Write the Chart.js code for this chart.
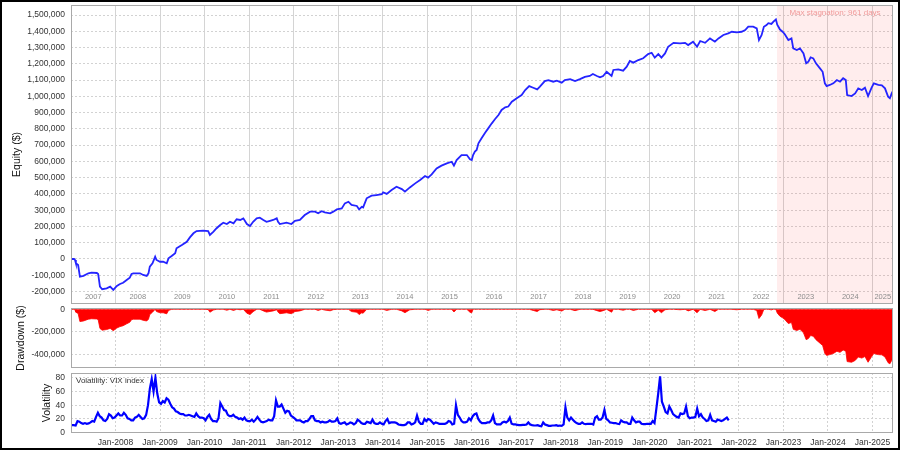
<!DOCTYPE html>
<html>
<head>
<meta charset="utf-8">
<script src="https://cdn.jsdelivr.net/npm/chart.js@4/dist/chart.umd.min.js"></script>
<style>
html,body{margin:0;padding:0;background:#fff;}
#wrap{position:relative;width:900px;height:450px;overflow:hidden;background:#fff;}
#wrap canvas{position:absolute;left:0;}
#frame{position:absolute;left:0;top:0;width:900px;height:450px;box-sizing:border-box;border:2px solid #000;pointer-events:none;}
</style>
</head>
<body>
<div id="wrap">
  <canvas id="c1" width="900" height="306" style="top:0px"></canvas>
  <canvas id="c2" width="900" height="64" style="top:306px"></canvas>
  <canvas id="c3" width="900" height="80" style="top:370px"></canvas>
  <div id="frame"></div>
</div>
<script>
// ---------------- DATA ----------------
// Equity curve (dates as decimal years, values in $ thousands)
const equityDates = [
  2007.00,2007.07,2007.09,2007.11,2007.16,2007.20,2007.28,2007.39,2007.46,2007.58,2007.61,2007.65,2007.70,2007.80,2007.88,2007.95,
  2008.03,2008.10,2008.17,2008.25,2008.32,2008.36,2008.40,2008.55,2008.62,2008.70,2008.74,2008.77,2008.83,2008.89,2008.92,
  2009.00,2009.07,2009.15,2009.19,2009.26,2009.34,2009.37,2009.49,2009.60,2009.67,2009.75,2009.82,2009.97,
  2010.08,2010.12,2010.20,2010.27,2010.35,2010.42,2010.50,2010.57,2010.65,2010.72,2010.80,2010.87,2010.95,
  2011.02,2011.09,2011.17,2011.24,2011.32,2011.39,2011.47,2011.54,2011.62,2011.65,2011.69,2011.84,2011.95,
  2012.03,2012.14,2012.25,2012.37,2012.48,2012.55,2012.63,2012.70,2012.82,2012.89,2012.97,
  2013.08,2013.15,2013.23,2013.30,2013.42,2013.47,2013.53,2013.56,2013.64,2013.75,2013.86,2013.98,
  2014.01,2014.09,2014.20,2014.31,2014.43,2014.50,2014.61,2014.73,2014.84,2014.95,
  2015.02,2015.10,2015.21,2015.32,2015.44,2015.55,2015.60,2015.66,2015.77,2015.89,2015.96,
  2016.00,2016.03,2016.07,2016.11,2016.15,2016.22,2016.30,2016.37,2016.45,2016.52,2016.60,2016.67,2016.75,2016.82,2016.90,
  2017.01,2017.12,2017.20,2017.29,2017.38,2017.47,2017.53,2017.64,2017.72,2017.83,2017.91,
  2018.02,2018.09,2018.21,2018.32,2018.43,2018.54,2018.65,2018.72,2018.81,2018.88,2018.95,
  2019.03,2019.14,2019.18,2019.29,2019.40,2019.48,2019.55,2019.63,2019.74,2019.85,2019.96,
  2020.04,2020.11,2020.19,2020.26,2020.34,2020.41,2020.53,2020.68,2020.79,2020.86,2020.97,
  2021.06,2021.13,2021.24,2021.35,2021.46,2021.54,2021.65,2021.76,2021.84,2021.95,
  2022.06,2022.14,2022.21,2022.32,2022.40,2022.45,2022.51,2022.56,2022.62,2022.66,2022.73,2022.77,2022.83,2022.86,2022.92,2022.98,
  2023.03,2023.11,2023.18,2023.22,2023.30,2023.37,2023.45,2023.51,2023.56,2023.61,2023.67,2023.73,2023.82,2023.88,2023.93,2023.97,
  2024.04,2024.12,2024.20,2024.27,2024.34,2024.40,2024.43,2024.53,2024.61,2024.68,2024.76,2024.83,2024.90,2024.98,
  2025.03,2025.13,2025.21,2025.28,2025.35,2025.39,2025.43,2025.46
];
const equityK = [
  0,0,-6,-26,-37,-109,-104,-88,-84,-86,-92,-170,-186,-180,-170,-190,
  -166,-154,-146,-129,-115,-92,-88,-88,-98,-104,-88,-47,-26,14,-6,
  -17,-17,-26,4,18,35,66,86,106,133,158,172,174,
  172,148,168,189,209,223,215,229,219,244,240,250,215,
  203,229,250,254,240,229,235,240,250,229,215,223,215,
  234,240,270,291,291,281,294,287,281,291,305,
  311,342,352,332,326,305,321,317,373,389,393,398,
  410,400,424,444,430,414,440,465,486,510,
  500,520,557,574,588,598,574,608,639,639,613,
  608,639,660,670,711,742,776,803,834,859,885,916,932,937,967,
  988,1008,1039,1063,1053,1043,1060,1094,1100,1090,1096,
  1084,1100,1106,1094,1106,1120,1125,1137,1125,1117,1125,
  1151,1125,1162,1166,1158,1182,1217,1207,1223,1234,1260,
  1268,1238,1260,1238,1264,1305,1329,1325,1329,1315,1336,
  1305,1340,1329,1356,1336,1356,1377,1387,1397,1393,
  1397,1407,1428,1428,1418,1346,1377,1428,1438,1450,1445,1458,1473,1440,1412,1397,
  1382,1346,1356,1295,1285,1295,1264,1203,1213,1240,1233,1203,1172,1151,1080,1063,
  1070,1080,1100,1090,1111,1100,1008,1002,1018,1049,1039,1053,1002,1053,
  1080,1070,1068,1049,998,988,1018,1034
];
// Drawdown ($ thousands), same dates as equity
const drawdownK = [
  0,0,-6,-26,-37,-109,-104,-88,-84,-86,-92,-170,-186,-180,-170,-190,
  -166,-154,-146,-129,-115,-92,-88,-88,-98,-104,-88,-47,-26,0,-20,
  -31,-31,-40,-10,0,0,0,0,0,0,0,0,0,
  -2,-26,-6,0,0,0,-8,0,-10,0,-4,0,-35,
  -47,-21,0,0,-14,-25,-19,-14,-4,-25,-39,-31,-39,
  -20,-14,0,0,0,-10,0,-7,-13,-3,0,
  0,0,0,-20,-26,-47,-31,-35,0,0,0,0,
  0,-10,0,0,-14,-30,-4,0,0,0,
  -10,0,0,0,0,0,-24,0,0,0,-26,
  -31,0,0,0,0,0,0,0,0,0,0,0,0,0,0,
  0,0,0,0,-10,-20,-3,0,0,-10,-4,
  -16,0,0,-12,0,0,0,0,-12,-20,-12,
  0,-26,0,0,-8,0,0,-10,0,0,0,
  0,-30,-8,-30,-4,0,0,-4,0,-14,0,
  -31,0,-11,0,-20,0,0,0,0,-4,
  0,0,0,0,-10,-82,-51,0,0,0,-5,0,0,-33,-61,-76,
  -91,-127,-117,-178,-188,-178,-209,-270,-260,-233,-240,-270,-301,-322,-393,-410,
  -403,-393,-373,-383,-362,-373,-465,-471,-455,-424,-434,-420,-471,-420,
  -393,-403,-405,-424,-475,-485,-455,-439
];
// VIX index, two readings per month from Jan-2007 to early Oct-2021
const vixStart = 2007.0;
const vixValues = [
  11,11,10.5,17,16,14,13,14,13,13.5,15,17,16,23,29,24,22,18,17,20,27,25,21,22,
  25,28,25,25,29,26,21,20,18,18,22,23,26,23,20,21,26,40,64,78,60,80,57,44,
  42,46,44,50,48,42,37,35,31,30,28,27,27,25,25,26,25,24,23,28,24,22,22,21,
  18,23,26,20,17,17,16,21,43,38,33,32,26,24,24,26,23,22,20,21,19,22,18,17,
  17,19,16,19,23,19,16,15,16,17,19,18,18,24,47,38,38,41,35,29,32,31,25,23,
  21,18,18,18,16,15,17,17,20,24,24,18,17,17,15,16,15,15,16,18,16,16,17,21,
  14,13,14,15,12,13,15,14,12,14,19,17,14,13,13,16,15,14,19,14,13,13,15,13,
  12,17,20,14,15,15,15,14,12,11.5,11,11,12,15,15,12,13,15,25,16,13,13,20,17,
  20,19,16,13,15,14,13,13,13,13,14,17,16,12,13,40,26,22,17,15,15,16,21,18,
  24,27,28,20,16,14,14,14,15,15,18,25,14,12,12,12,15,16,15,17,22,13,12,12,
  11.5,11,11,11.5,11.5,12,15,12,11,10.5,10.5,11,10,9.5,15,12,11,10,10,10.5,10.5,11,10,10.5,
  10,12,37,22,18,22,19,16,14,13,13,15,13,12.5,13,13,13,12,22,24,19,19,22,33,
  20,18,15,14.5,14,14,13,12.5,18,16,15,15,13,13,22,18,15,16,16,13,12.5,12.5,13,13,
  13,17,14,35,57,82,45,38,30,28,38,33,27,25,23,22,28,27,28,38,24,21,22,22,
  23,35,24,27,22,20,17,18,26,18,17,16,19,18,17,18,20,22,18
];
// Max stagnation period
const stagStart = 2022.855;
const stagText = 'Max stagnation: 961 days';
// Tick values / labels
const equityTicks = [-200000,-100000,0,100000,200000,300000,400000,500000,600000,700000,800000,900000,1000000,1100000,1200000,1300000,1400000,1500000];
const drawdownTicks = [0,-200000,-400000];
const vixTicks = [0,20,40,60,80];
const yearLabels = ['2007','2008','2009','2010','2011','2012','2013','2014','2015','2016','2017','2018','2019','2020','2021','2022','2023','2024','2025'];
const janTicks = [2008,2009,2010,2011,2012,2013,2014,2015,2016,2017,2018,2019,2020,2021,2022,2023,2024,2025];
const janLabels = ['Jan-2008','Jan-2009','Jan-2010','Jan-2011','Jan-2012','Jan-2013','Jan-2014','Jan-2015','Jan-2016','Jan-2017','Jan-2018','Jan-2019','Jan-2020','Jan-2021','Jan-2022','Jan-2023','Jan-2024','Jan-2025'];

// ---------------- CHART SETUP ----------------
const FONT = "'Liberation Sans', Arial, sans-serif";
Chart.defaults.font.family = FONT;
Chart.defaults.color = '#333';

const X_MIN = 2007.0, X_MAX = 2025.46;
const EQ_MIN = -276700, EQ_MAX = 1561500;
const DD_MIN = -522000, DD_MAX = 11600;
const VX_MIN = -0.4, VX_MAX = 86.8;

const yearBounds = yearLabels.slice(1).map(Number);
const yearMids = yearLabels.map(y => (Math.max(+y, X_MIN) + Math.min(+y + 1, X_MAX)) / 2);

function fixY(w){ return s => { s.width = w; s.paddingTop = 0; s.paddingBottom = 0; }; }
function fixX(h){ return s => { s.height = h; s.paddingLeft = 0; s.paddingRight = 0; }; }
const setTicks = arr => s => { s.ticks = arr.map(v => ({value: v})); };
const fmt = v => Number(v).toLocaleString('en-US');

const framePlugin = {
  id: 'frameBox',
  afterDraw(chart){
    const {ctx, chartArea: a} = chart;
    ctx.save();
    ctx.strokeStyle = '#a9a9a9';
    ctx.lineWidth = 1;
    ctx.strokeRect(Math.round(a.left) + 0.5, Math.round(a.top) + 0.5, Math.round(a.right - a.left) - 1, Math.round(a.bottom - a.top) - 1);
    ctx.restore();
  }
};

const dottedGrid = {color: '#d2d2d2', lineWidth: 1, drawTicks: false};
const baseOpts = {responsive: false, animation: false, devicePixelRatio: 1,
  plugins: {legend: {display: false}, tooltip: {enabled: false}},
  elements: {point: {radius: 0}, line: {tension: 0}}};

// ---- Chart 1: Equity ----
new Chart(document.getElementById('c1'), {
  type: 'line',
  data: {datasets: [
    {label: 'Equity', data: equityDates.map((d, i) => ({x: d, y: equityK[i] * 1000})),
     borderColor: '#2424ff', borderWidth: 1.8, fill: false, pointRadius: 0},
    {label: 'Stagnation', data: [{x: stagStart, y: EQ_MAX}, {x: X_MAX, y: EQ_MAX}],
     borderWidth: 0, borderColor: 'rgba(0,0,0,0)', backgroundColor: 'rgba(255,60,60,0.09)', fill: 'start', pointRadius: 0}
  ]},
  options: Object.assign({}, baseOpts, {
    layout: {padding: {left: 0, right: 7, top: 5, bottom: 2}},
    scales: {
      x: {type: 'linear', position: 'bottom', min: X_MIN, max: X_MAX, afterBuildTicks: setTicks(yearBounds),
          ticks: {display: false}, grid: {color: '#d4d4d4', lineWidth: 1, drawTicks: false},
          border: {display: false}, afterFit: fixX(0)},
      xl: {type: 'linear', position: 'bottom', min: X_MIN, max: X_MAX, afterBuildTicks: setTicks(yearMids),
           ticks: {mirror: true, padding: 2.5, color: '#8c8c8c', font: {size: 7.5}, maxRotation: 0, autoSkip: false, z: 1,
                   callback: (v, i) => yearLabels[i]},
           grid: {display: false, drawTicks: false}, border: {display: false}, afterFit: fixX(0)},
      y: {type: 'linear', min: EQ_MIN, max: EQ_MAX, afterBuildTicks: setTicks(equityTicks),
          ticks: {padding: 6, color: '#333', font: {size: 8.5}, callback: fmt},
          grid: dottedGrid, border: {display: false, dash: [2, 2]},
          title: {display: true, text: 'Equity ($)', color: '#111', font: {size: 10.5}, padding: {top: 10.7, bottom: 0}},
          afterFit: fixY(71)}
    }
  }),
  plugins: [framePlugin, {
    id: 'stagLabel',
    afterDatasetsDraw(chart){
      const {ctx, chartArea: a, scales} = chart;
      const x0 = scales.x.getPixelForValue(stagStart);
      ctx.save();
      ctx.font = '8px ' + FONT;
      ctx.fillStyle = '#f19a9a';
      ctx.textAlign = 'center';
      ctx.textBaseline = 'middle';
      ctx.fillText(stagText, (x0 + a.right) / 2, a.top + 7.5);
      ctx.restore();
    }
  }]
});

// ---- Chart 2: Drawdown ----
new Chart(document.getElementById('c2'), {
  type: 'line',
  data: {datasets: [
    {label: 'Drawdown', data: equityDates.map((d, i) => ({x: d, y: drawdownK[i] * 1000})),
     borderColor: '#ff0000', borderWidth: 0.8, backgroundColor: '#ff0000', fill: 'origin', pointRadius: 0}
  ]},
  options: Object.assign({}, baseOpts, {
    layout: {padding: {left: 0, right: 7, top: 2, bottom: 2}},
    scales: {
      x: {type: 'linear', position: 'bottom', min: X_MIN, max: X_MAX, afterBuildTicks: setTicks(janTicks),
          ticks: {display: false}, grid: dottedGrid, border: {display: false, dash: [2, 2]}, afterFit: fixX(0)},
      y: {type: 'linear', min: DD_MIN, max: DD_MAX, afterBuildTicks: setTicks(drawdownTicks),
          ticks: {padding: 6, color: '#333', font: {size: 8.5}, callback: fmt},
          grid: dottedGrid, border: {display: false, dash: [2, 2]},
          title: {display: true, text: 'Drawdown ($)', color: '#111', font: {size: 10.5}, padding: {top: 14.7, bottom: 0}},
          afterFit: fixY(71)}
    }
  }),
  plugins: [framePlugin]
});

// ---- Chart 3: Volatility ----
new Chart(document.getElementById('c3'), {
  type: 'line',
  data: {datasets: [
    {label: 'VIX', data: vixValues.map((v, i) => ({x: vixStart + (i + 0.5) / 24, y: v})),
     borderColor: '#0000ff', borderWidth: 2.2, fill: false, pointRadius: 0}
  ]},
  options: Object.assign({}, baseOpts, {
    layout: {padding: {left: 0, right: 7, top: 3, bottom: 0}},
    scales: {
      x: {type: 'linear', position: 'bottom', min: X_MIN, max: X_MAX, afterBuildTicks: setTicks(janTicks),
          ticks: {padding: 5, color: '#333', font: {size: 8.5}, maxRotation: 0, autoSkip: false,
                  callback: (v, i) => janLabels[i]},
          grid: dottedGrid, border: {display: false, dash: [2, 2]}, afterFit: fixX(17)},
      y: {type: 'linear', min: VX_MIN, max: VX_MAX, afterBuildTicks: setTicks(vixTicks),
          ticks: {padding: 6, color: '#333', font: {size: 8.5}},
          grid: dottedGrid, border: {display: false, dash: [2, 2]},
          title: {display: true, text: 'Volatility', color: '#111', font: {size: 10.5}, padding: {top: 40.7, bottom: 0}},
          afterFit: fixY(71)}
    }
  }),
  plugins: [framePlugin, {
    id: 'vixLabel',
    afterDatasetsDraw(chart){
      const {ctx, chartArea: a} = chart;
      ctx.save();
      ctx.font = '8px ' + FONT;
      ctx.fillStyle = '#333';
      ctx.textAlign = 'left';
      ctx.textBaseline = 'middle';
      ctx.fillText('Volatility: VIX index', a.left + 5, a.top + 7.7);
      ctx.restore();
    }
  }]
});
</script>
</body>
</html>
